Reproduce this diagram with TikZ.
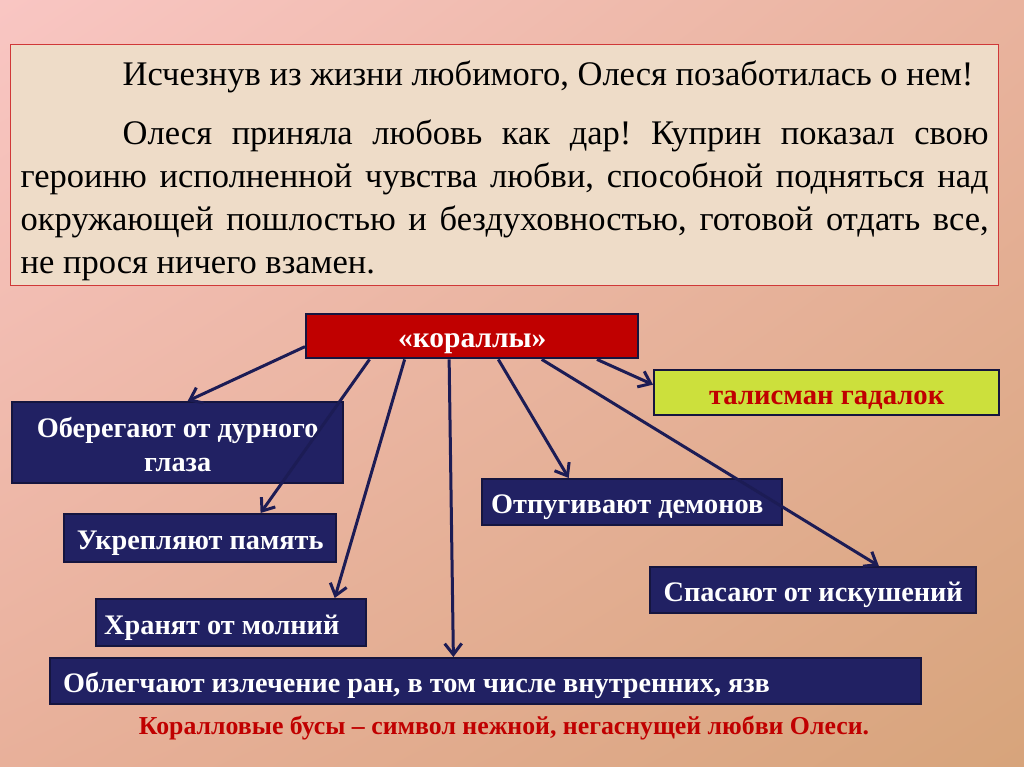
\documentclass[tikz,border=0pt]{standalone}
\usepackage{fontspec}
\setmainfont{Liberation Serif}
\usetikzlibrary{arrows.meta,calc,shadings}
\definecolor{bgTL}{HTML}{F9C6C3}
\definecolor{bgTR}{HTML}{E9B39E}
\definecolor{bgBL}{HTML}{E8B09A}
\definecolor{bgBR}{HTML}{D7A47B}
\definecolor{navyfill}{HTML}{212163}
\definecolor{navyline}{HTML}{15153F}
\definecolor{arrowcol}{HTML}{1C1C55}
\definecolor{coralred}{HTML}{C00000}
\definecolor{limefill}{HTML}{CCE03C}
\definecolor{introfill}{HTML}{EEDCC8}
\definecolor{introline}{HTML}{D03838}
\tikzset{
  box/.style={draw=navyline, line width=2.4pt, anchor=north west, inner sep=0pt,
    font=\bfseries\fontsize{28.3}{34}\selectfont, align=center,
    text height=26pt, text depth=3pt},
  navybox/.style={box, fill=navyfill, text=white},
  arr/.style={draw=arrowcol, line width=3pt, -{Straight Barb[length=11pt,width=17pt,line width=3pt]}},
}
\begin{document}
\frenchspacing
\begin{tikzpicture}[x=1pt,y=-1pt]
\useasboundingbox (0,0) rectangle (1024,767);
\shade[upper left=bgTL, upper right=bgTR, lower left=bgBL, lower right=bgBR] (0,0) rectangle (1024,767);

\node[draw=introline, line width=1.4pt, fill=introfill, anchor=north west,
      minimum width=988pt, minimum height=241pt, inner xsep=10pt, inner ysep=0pt,
      text width=968pt, text height=41pt, text depth=200pt,
      align=justify, font=\fontsize{34.5}{43}\selectfont] (intro) at (10,44)
  {\hspace*{102pt}Исчезнув из жизни любимого, Олеся позаботилась о нем!\par\vspace{16pt}
   \hspace*{102pt}Олеся приняла любовь как дар! Куприн показал свою героиню исполненной чувства любви, способной подняться над окружающей пошлостью и бездуховностью, готовой отдать все,\linebreak не прося ничего взамен.};

\node[box, fill=coralred, text=white, font=\bfseries\fontsize{29.5}{34}\selectfont, minimum width=332pt, minimum height=44pt] (corals) at (305,313) {«кораллы»};
\node[box, fill=limefill, text=coralred, font=\bfseries\fontsize{28.7}{34}\selectfont, minimum width=345pt, minimum height=45pt] (talisman) at (653,369) {талисман гадалок};
\node[navybox, minimum width=331pt, minimum height=81pt, text height=60pt] (evil) at (11,401) {Оберегают от дурного\\глаза};
\node[navybox, minimum width=272pt, minimum height=48pt] (memory) at (63,513) {Укрепляют память};
\node[navybox, minimum width=270pt, minimum height=47pt, inner xsep=8pt, text width=254pt, align=flush left] (lightning) at (95,598) {Хранят от молний};
\node[navybox, minimum width=871pt, minimum height=46pt, inner xsep=13pt, text width=845pt, align=flush left, font=\bfseries\fontsize{28.2}{34}\selectfont] (wounds) at (49,657) {Облегчают излечение ран, в том числе внутренних, язв};
\node[navybox, minimum width=300pt, minimum height=46pt, inner xsep=9pt, text width=282pt, align=flush left] (demons) at (481,478) {Отпугивают демонов};
\node[navybox, minimum width=326pt, minimum height=46pt] (temptation) at (649,566) {Спасают от искушений};

\node[text=coralred, font=\bfseries\fontsize{25.8}{30}\selectfont] (caption) at (504,728) {Коралловые бусы – символ нежной, негаснущей любви Олеси.};

\draw[arr] ($(corals.west)!0.45!(corals.south west)$) -- ($(evil.north west)!0.53!(evil.north east)$);
\draw[arr] ($(corals.south west)!0.193!(corals.south east)$) -- ($(memory.north west)!0.72!(memory.north east)$);
\draw[arr] ($(corals.south west)!0.298!(corals.south east)$) -- ($(lightning.north west)!0.88!(lightning.north east)$);
\draw[arr] ($(corals.south west)!0.431!(corals.south east)$) -- ($(wounds.north west)!0.463!(wounds.north east)$);
\draw[arr] ($(corals.south west)!0.578!(corals.south east)$) -- ($(demons.north west)!0.29!(demons.north east)$);
\draw[arr] ($(corals.south west)!0.708!(corals.south east)$) -- ($(temptation.north west)!0.70!(temptation.north east)$);
\draw[arr] ($(corals.south west)!0.873!(corals.south east)$) -- ($(talisman.north west)!0.33!(talisman.south west)$);
\end{tikzpicture}
\end{document}
